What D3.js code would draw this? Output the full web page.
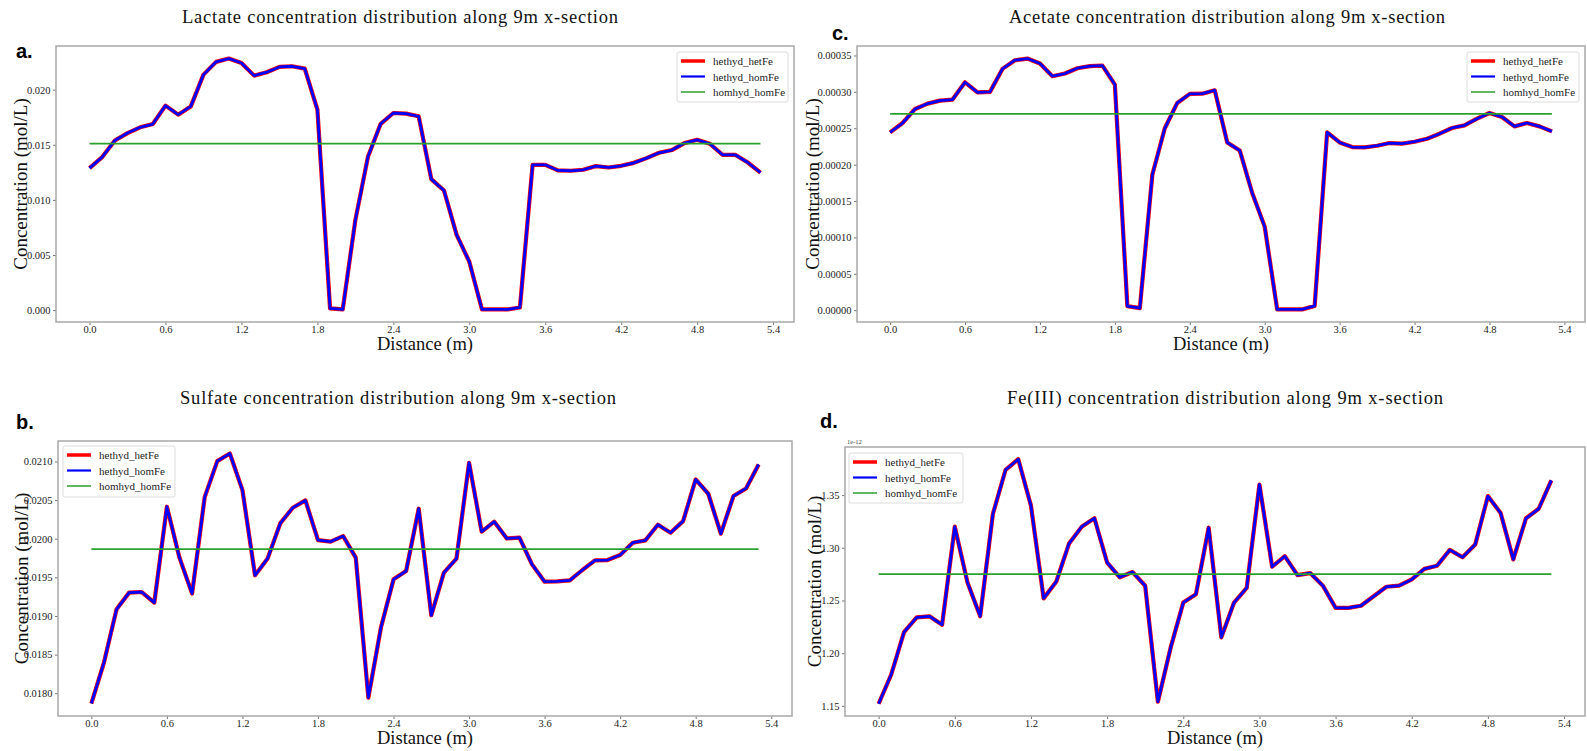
<!DOCTYPE html>
<html>
<head>
<meta charset="utf-8">
<script src="https://cdn.jsdelivr.net/npm/d3@7"></script>
<style>
  html, body { margin: 0; padding: 0; background: #fff; }
  svg { display: block; }
</style>
</head>
<body>
<svg id="chart" width="1587" height="751"></svg>
<script>
// ---------------- DATA ----------------
const distance = [0.0,0.1,0.2,0.3,0.4,0.5,0.6,0.7,0.8,0.9,1.0,1.1,1.2,1.3,1.4,1.5,1.6,1.7,1.8,1.9,
  2.0,2.1,2.2,2.3,2.4,2.5,2.6,2.7,2.8,2.9,3.0,3.1,3.2,3.3,3.4,3.5,3.6,3.7,3.8,3.9,
  4.0,4.1,4.2,4.3,4.4,4.5,4.6,4.7,4.8,4.9,5.0,5.1,5.2,5.3];

const seriesNames = ["hethyd_hetFe", "hethyd_homFe", "homhyd_homFe"];

// Lactate (mol/L)
const lactateHet = [0.01288,0.01388,0.01539,0.01606,0.01658,0.01688,0.01855,0.01773,0.01848,0.02136,
  0.02252,0.02282,0.02242,0.02127,0.02158,0.02206,0.02212,0.02191,0.01818,0.00015,
  0.00006,0.00818,0.01394,0.01690,0.01788,0.01782,0.01758,0.01188,0.01085,0.00682,
  0.00439,0.00006,0.00006,0.00006,0.00024,0.01318,0.01318,0.01267,0.01264,0.01273,
  0.01306,0.01294,0.01309,0.01336,0.01379,0.01427,0.01452,0.01515,0.01545,0.01509,
  0.01409,0.01409,0.01339,0.01248];
const lactateHom = lactateHet.slice();
const lactateHomHyd = 0.0151;

// Acetate (mol/L)
const acetateHet = [0.0002443,0.0002572,0.0002765,0.0002838,0.0002880,0.0002894,0.0003132,0.0002994,0.0003000,0.0003316,
  0.0003435,0.0003458,0.0003390,0.0003215,0.0003252,0.0003325,0.0003353,0.0003362,0.0003100,0.0000055,
  0.0000028,0.0001860,0.0002500,0.0002848,0.0002972,0.0002975,0.0003022,0.0002305,0.0002195,0.0001610,
  0.0001148,0.0000010,0.0000010,0.0000010,0.0000059,0.0002443,0.0002305,0.0002242,0.0002237,0.0002260,
  0.0002297,0.0002288,0.0002315,0.0002356,0.0002425,0.0002504,0.0002540,0.0002632,0.0002710,0.0002655,
  0.0002526,0.0002572,0.0002526,0.0002457];
const acetateHom = acetateHet.slice();
const acetateHomHyd = 0.0002697;

// Sulfate (mol/L)
const sulfateHet = [0.017867,0.018397,0.019086,0.019302,0.019310,0.019173,0.020414,0.019755,0.019289,0.020538,
  0.021004,0.021103,0.020629,0.019526,0.019745,0.020198,0.020401,0.020496,0.019982,0.019962,
  0.020034,0.019755,0.017944,0.018850,0.019474,0.019582,0.020388,0.019009,0.019560,0.019742,
  0.020983,0.020091,0.020220,0.020004,0.020013,0.019668,0.019444,0.019448,0.019461,0.019595,
  0.019720,0.019724,0.019789,0.019948,0.019978,0.020181,0.020078,0.020228,0.020767,0.020582,
  0.020065,0.020552,0.020651,0.020961];
const sulfateHom = sulfateHet.slice();
const sulfateHomHyd = 0.019866;

// Fe(III) (mol/L, x 1e-12)
const fe3Het = [1.152,1.180,1.220,1.234,1.235,1.227,1.320,1.267,1.235,1.332,
  1.374,1.384,1.340,1.252,1.268,1.304,1.320,1.328,1.286,1.272,
  1.277,1.264,1.154,1.205,1.248,1.256,1.319,1.215,1.248,1.262,
  1.360,1.282,1.292,1.274,1.276,1.264,1.243,1.243,1.245,1.254,
  1.263,1.264,1.270,1.280,1.283,1.298,1.291,1.303,1.349,1.333,
  1.289,1.328,1.337,1.364];
const fe3Hom = fe3Het.slice();
const fe3HomHyd = 1.275;

const xTicks = [0.0,0.6,1.2,1.8,2.4,3.0,3.6,4.2,4.8,5.4];
const lactateTicks = [0.000,0.005,0.010,0.015,0.020];
const acetateTicks = [0.00000,0.00005,0.00010,0.00015,0.00020,0.00025,0.00030,0.00035];
const sulfateTicks = [0.0180,0.0185,0.0190,0.0195,0.0200,0.0205,0.0210];
const fe3Ticks = [1.15,1.20,1.25,1.30,1.35];

const titles = [
  "Lactate concentration distribution along 9m x-section",
  "Acetate concentration distribution along 9m x-section",
  "Sulfate concentration distribution along 9m x-section",
  "Fe(III) concentration distribution along 9m x-section"
];

// ---------------- LAYOUT ----------------
const panels = [
  { id:"a", title:titles[0], het:lactateHet, hom:lactateHom, homhyd:lactateHomHyd, ticks:lactateTicks, fmt:".3f",
    box:{x0:56,x1:794,y0:46,y1:322}, label:{x:16,y:58}, titleX:400, titleY:23, ylabX:20, xlabY:350,
    legend:{x:677,y:52,w:111,h:50} },
  { id:"c", title:titles[1], het:acetateHet, hom:acetateHom, homhyd:acetateHomHyd, ticks:acetateTicks, fmt:".5f",
    box:{x0:857,x1:1585,y0:46,y1:322}, label:{x:832,y:40}, titleX:1227, titleY:23, ylabX:812, xlabY:350,
    legend:{x:1467,y:52,w:112,h:50} },
  { id:"b", title:titles[2], het:sulfateHet, hom:sulfateHom, homhyd:sulfateHomHyd, ticks:sulfateTicks, fmt:".4f",
    box:{x0:58,x1:792,y0:441,y1:716}, label:{x:16,y:429}, titleX:398, titleY:404, ylabX:21, xlabY:744,
    legend:{x:63,y:446,w:112,h:51} },
  { id:"d", title:titles[3], het:fe3Het, hom:fe3Hom, homhyd:fe3HomHyd, ticks:fe3Ticks, fmt:".2f",
    box:{x0:845,x1:1585,y0:447,y1:716}, label:{x:820,y:428}, titleX:1225, titleY:404, ylabX:814, xlabY:744,
    legend:{x:849,y:453,w:114,h:50}, offset:"1e-12" }
];

const svg = d3.select("#chart");
const serif = "'Liberation Serif', 'Times New Roman', serif";
const colors = { het:"#ff0000", hom:"#0000ff", homhyd:"#2ca02c" };

function padDomain(vals) {
  const [lo, hi] = d3.extent(vals);
  const p = (hi - lo) * 0.05;
  return [lo - p, hi + p];
}

panels.forEach(p => {
  const g = svg.append("g");
  const b = p.box;
  const x = d3.scaleLinear().domain(padDomain(distance)).range([b.x0, b.x1]);
  const y = d3.scaleLinear().domain(padDomain(p.het.concat(p.hom, [p.homhyd]))).range([b.y1, b.y0]);

  // Title
  g.append("text").attr("x", p.titleX).attr("y", p.titleY)
    .attr("text-anchor", "middle").attr("font-family", serif).attr("font-size", 18.5)
    .attr("textLength", 436).attr("lengthAdjust", "spacing")
    .attr("fill", "#111").text(p.title);

  // Panel label
  g.append("text").attr("x", p.label.x).attr("y", p.label.y)
    .attr("font-family", "'Liberation Sans', Arial, sans-serif").attr("font-weight", "bold")
    .attr("font-size", 20).attr("fill", "#000").text(p.id + ".");

  // Axes
  const xAxis = d3.axisBottom(x).tickValues(xTicks).tickFormat(d3.format(".1f")).tickSizeOuter(0).tickSize(3).tickPadding(1);
  const yAxis = d3.axisLeft(y).tickValues(p.ticks).tickFormat(d3.format(p.fmt)).tickSizeOuter(0).tickSize(3).tickPadding(2.5);
  const gx = g.append("g").attr("transform", `translate(0,${b.y1})`).call(xAxis);
  const gy = g.append("g").attr("transform", `translate(${b.x0},0)`).call(yAxis);
  [gx, gy].forEach(ax => {
    ax.select(".domain").remove();
    ax.selectAll(".tick line").attr("stroke", "#777").attr("stroke-width", 1);
    ax.selectAll(".tick text").attr("font-family", serif).attr("font-size", 10.5).attr("fill", "#222");
  });

  // Frame
  g.append("rect").attr("x", b.x0).attr("y", b.y0).attr("width", b.x1 - b.x0).attr("height", b.y1 - b.y0)
    .attr("fill", "none").attr("stroke", "#a8a8a8").attr("stroke-width", 1.5);

  // Lines
  const line = d3.line().x((d, i) => x(distance[i])).y(d => y(d));
  g.append("path").datum(p.het).attr("d", line).attr("fill", "none")
    .attr("stroke", colors.het).attr("stroke-width", 4.2).attr("stroke-linejoin", "round");
  g.append("path").datum(p.hom).attr("d", line).attr("fill", "none")
    .attr("stroke", colors.hom).attr("stroke-width", 2.8).attr("stroke-linejoin", "round");
  const hx = d3.extent(distance);
  g.append("line").attr("x1", x(hx[0])).attr("x2", x(hx[1]))
    .attr("y1", y(p.homhyd)).attr("y2", y(p.homhyd))
    .attr("stroke", colors.homhyd).attr("stroke-width", 1.8);

  // Axis labels
  g.append("text").attr("x", (b.x0 + b.x1) / 2).attr("y", p.xlabY)
    .attr("text-anchor", "middle").attr("font-family", serif).attr("font-size", 18.5)
    .attr("fill", "#111").text("Distance (m)");
  g.append("text").attr("transform", `translate(${p.ylabX},${(b.y0 + b.y1) / 2}) rotate(-90)`)
    .attr("text-anchor", "middle").attr("dominant-baseline", "central").attr("font-family", serif).attr("font-size", 19)
    .attr("fill", "#111").text("Concentration (mol/L)");

  if (p.offset) {
    g.append("text").attr("x", b.x0 + 2).attr("y", b.y0 - 3)
      .attr("font-family", serif).attr("font-size", 6.5).attr("fill", "#444").text(p.offset);
  }

  // Legend
  const L = p.legend;
  const lg = g.append("g").attr("transform", `translate(${L.x},${L.y})`);
  lg.append("rect").attr("width", L.w).attr("height", L.h).attr("rx", 2)
    .attr("fill", "#fff").attr("fill-opacity", 0.85).attr("stroke", "#dcdcdc").attr("stroke-width", 1);
  const items = [
    { name: seriesNames[0], color: colors.het, w: 3.5 },
    { name: seriesNames[1], color: colors.hom, w: 2.2 },
    { name: seriesNames[2], color: colors.homhyd, w: 1.5 }
  ];
  items.forEach((it, i) => {
    const yy = 9 + i * 15.5;
    lg.append("line").attr("x1", 4).attr("x2", 28).attr("y1", yy).attr("y2", yy)
      .attr("stroke", it.color).attr("stroke-width", it.w);
    lg.append("text").attr("x", 36).attr("y", yy).attr("dominant-baseline", "central")
      .attr("font-family", serif).attr("font-size", 11).attr("fill", "#222").text(it.name);
  });
});
</script>
</body>
</html>
